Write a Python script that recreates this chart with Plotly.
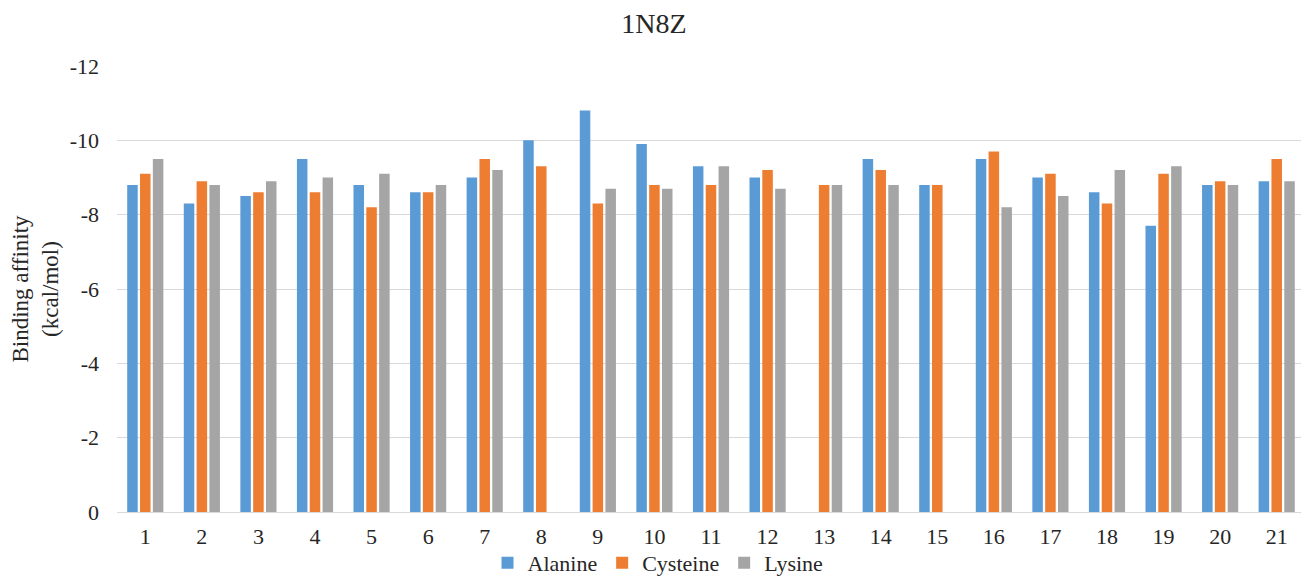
import plotly.graph_objects as go

categories = [str(i) for i in range(1, 22)]
alanine = [-8.8, -8.3, -8.5, -9.5, -8.8, -8.6, -9.0, -10.0, -10.8, -9.9, -9.3,
           -9.0, None, -9.5, -8.8, -9.5, -9.0, -8.6, -7.7, -8.8, -8.9]
cysteine = [-9.1, -8.9, -8.6, -8.6, -8.2, -8.6, -9.5, -9.3, -8.3, -8.8, -8.8,
            -9.2, -8.8, -9.2, -8.8, -9.7, -9.1, -8.3, -9.1, -8.9, -9.5]
lysine = [-9.5, -8.8, -8.9, -9.0, -9.1, -8.8, -9.2, None, -8.7, -8.7, -9.3,
          -8.7, -8.8, -8.8, None, -8.2, -8.5, -9.2, -9.3, -8.8, -8.9]
ytick_vals = [0, -2, -4, -6, -8, -10, -12]
ytick_text = ["0", "-2", "-4", "-6", "-8", "-10", "-12"]

series = [("Alanine", alanine, "#5B9BD5"),
          ("Cysteine", cysteine, "#ED7D31"),
          ("Lysine", lysine, "#A5A5A5")]

font_family = "Liberation Serif"
text_color = "#262626"

# page body adds an 8px offset; figure is sized so content lands where the reference has it
W, H = 1301, 573

fig = go.Figure()
for name, vals, color in series:
    fig.add_trace(go.Bar(x=categories, y=vals, name=name,
                         marker=dict(color=color, line=dict(width=0))))

fig.update_layout(
    width=W, height=H,
    paper_bgcolor="white", plot_bgcolor="white",
    margin=dict(l=109, r=4, t=58, b=69, autoexpand=False),
    barmode="group", bargap=0.32, bargroupgap=0.18,
    font=dict(family=font_family, size=22, color=text_color),
    title=dict(text="1N8Z", x=(654 - 8) / W, xanchor="center", xref="container",
               y=1 - (23 - 8) / H, yanchor="middle", yref="container",
               font=dict(family=font_family, size=28, color=text_color)),
    legend=dict(orientation="h", xref="container", x=(658 - 8) / W, xanchor="center",
                yref="container", y=1 - (563 - 8) / H, yanchor="middle",
                bgcolor="rgba(0,0,0,0)", borderwidth=0,
                font=dict(family=font_family, size=22, color=text_color),
                itemwidth=30, tracegroupgap=0),
    xaxis=dict(type="category", showgrid=False, showline=True, linecolor="#D9D9D9",
               linewidth=1, ticks="", ticklabelstandoff=5,
               tickfont=dict(family=font_family, size=22, color=text_color)),
    yaxis=dict(range=[0, -12], tickvals=ytick_vals, ticktext=ytick_text,
               showgrid=True, gridcolor="#D9D9D9", gridwidth=1, zeroline=False,
               ticks="", ticklabelstandoff=17,
               tickfont=dict(family=font_family, size=22, color=text_color),
               title=dict(text="Binding affinity<br>(kcal/mol)", standoff=4,
                          font=dict(family=font_family, size=23, color=text_color))),
)

fig.write_html("out.html")
